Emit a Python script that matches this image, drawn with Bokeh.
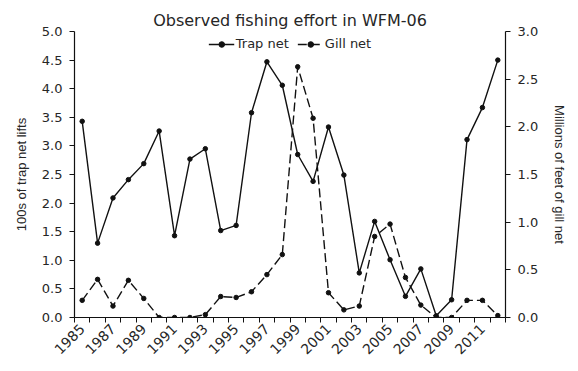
import math
from bokeh.plotting import figure
from bokeh.models import (Range1d, LinearAxis, FixedTicker, PrintfTickFormatter,
                          Legend, LegendItem)
from bokeh.embed import file_html
from bokeh.resources import INLINE

# ---- data ----
years = list(range(1985, 2013))
trap_net = [3.43, 1.30, 2.09, 2.41, 2.69, 3.26, 1.43, 2.77, 2.95, 1.52,
            1.61, 3.58, 4.47, 4.06, 2.85, 2.38, 3.33, 2.49, 0.78, 1.68,
            1.01, 0.37, 0.85, 0.03, 0.31, 3.11, 3.67, 4.50]
gill_net = [0.18, 0.40, 0.12, 0.39, 0.20, 0.00, 0.00, 0.00, 0.03, 0.22,
            0.21, 0.27, 0.45, 0.66, 2.63, 2.09, 0.26, 0.08, 0.12, 0.85,
            0.98, 0.42, 0.13, 0.00, 0.00, 0.18, 0.18, 0.02]
label_years = years[::2]
left_ticks = [0.0, 0.5, 1.0, 1.5, 2.0, 2.5, 3.0, 3.5, 4.0, 4.5, 5.0]
right_ticks = [0.0, 0.5, 1.0, 1.5, 2.0, 2.5, 3.0]
title_text = "Observed fishing effort in WFM-06"
left_label = "100s of trap net lifts"
right_label = "Millions of feet of gill net"

FONT = "DejaVu Sans"
TXT = "#262626"
INK = "#111111"

p = figure(width=570, height=363, output_backend="svg", toolbar_location=None,
           x_range=Range1d(years[0] - 0.5, years[-1] + 0.5),
           y_range=Range1d(left_ticks[0], left_ticks[-1]),
           x_axis_type=None, y_axis_type=None,
           min_border_left=74, min_border_right=63,
           min_border_top=31, min_border_bottom=46)
p.extra_y_ranges = {"gill": Range1d(right_ticks[0], right_ticks[-1])}
p.outline_line_color = None
p.xgrid.visible = False
p.ygrid.visible = False

p.title.text = title_text
p.title.align = "center"
p.title.text_font = FONT
p.title.text_font_size = "16px"
p.title.text_font_style = "normal"
p.title.text_color = TXT
p.title.standoff = 3


def style_axis(ax):
    ax.axis_line_color = INK
    ax.axis_line_width = 1.2
    ax.major_tick_line_color = INK
    ax.major_tick_in = 0
    ax.major_tick_out = 5
    ax.minor_tick_line_color = None
    ax.major_label_text_font = FONT
    ax.major_label_text_font_size = "13px"
    ax.major_label_text_color = TXT
    ax.axis_label_text_font = "Liberation Sans"
    ax.axis_label_text_font_size = "13px"
    ax.axis_label_text_font_style = "normal"
    ax.axis_label_text_color = TXT


# x axis: ticks at category boundaries, labels every other year
boundaries = [y - 0.5 for y in years] + [years[-1] + 0.5]
xax = LinearAxis(ticker=FixedTicker(ticks=label_years, minor_ticks=boundaries))
style_axis(xax)
xax.major_tick_line_color = None
xax.minor_tick_line_color = INK
xax.minor_tick_in = 0
xax.minor_tick_out = 5
xax.major_label_orientation = math.pi / 4
xax.major_label_standoff = 4
xax.major_label_text_font_size = "14px"
p.add_layout(xax, "below")

yl = LinearAxis(ticker=FixedTicker(ticks=left_ticks),
                formatter=PrintfTickFormatter(format="%.1f"),
                axis_label=left_label)
style_axis(yl)
yl.major_label_standoff = 7
yl.axis_label_standoff = 10
p.add_layout(yl, "left")

yr = LinearAxis(y_range_name="gill", ticker=FixedTicker(ticks=right_ticks),
                formatter=PrintfTickFormatter(format="%.1f"),
                axis_label=right_label)
style_axis(yr)
yr.major_label_standoff = 7
yr.axis_label_standoff = 11
p.add_layout(yr, "right")

# series
t_line = p.line(years, trap_net, line_color=INK, line_width=1.4)
t_pts = p.scatter(years, trap_net, size=4.5, marker="circle",
                  fill_color=INK, line_color=INK)
g_line = p.line(years, gill_net, y_range_name="gill", line_color=INK,
                line_width=1.4, line_dash="9 4")
g_pts = p.scatter(years, gill_net, y_range_name="gill", size=4.5,
                  marker="circle", fill_color=INK, line_color=INK)

legend = Legend(items=[LegendItem(label="Trap net", renderers=[t_line, t_pts]),
                       LegendItem(label="Gill net", renderers=[g_line, g_pts])],
                location="top_center", orientation="horizontal",
                border_line_color=None, background_fill_alpha=0,
                label_text_font=FONT, label_text_font_size="13px",
                label_text_color=TXT, glyph_width=26, glyph_height=14,
                label_standoff=2, spacing=8, padding=0, margin=5)
p.add_layout(legend)

open("out.html", "w").write(file_html(p, INLINE))
